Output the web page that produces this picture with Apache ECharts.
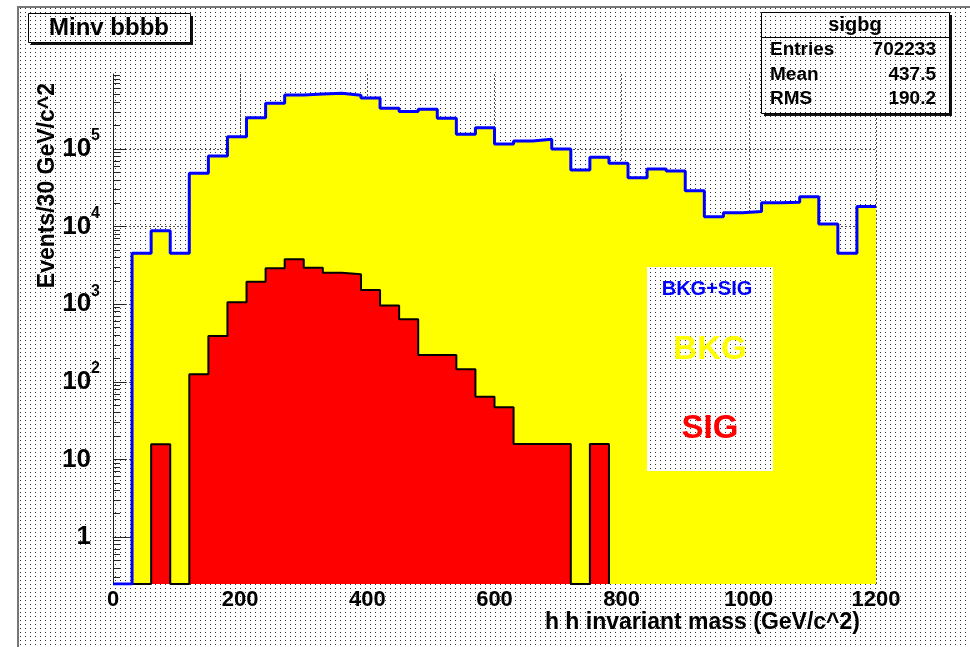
<!DOCTYPE html>
<html>
<head>
<meta charset="utf-8">
<title>Minv bbbb</title>
<script src="https://cdn.jsdelivr.net/npm/echarts@6.0.0/dist/echarts.min.js"></script>
<style>
html,body{margin:0;padding:0;background:#fff;}
#chart{width:970px;height:647px;}
</style>
</head>
<body>
<div id="chart"></div>
<script>
// ---- data ----
const binEdges = [0,30,60,90,120,150,180,210,240,270,300,330,360,390,420,450,480,510,540,570,600,
                  630,660,690,720,750,780,810,840,870,900,930,960,990,1020,1050,1080,1110,1140,1170,1200];
// BKG+SIG (blue outline)
const bkgSig = [0, 4530, 8850, 4530, 48600, 81300, 144000, 253000, 388000, 496000,
                512000, 522000, 492000, 454000, 334000, 303000, 325000, 249000, 155000, 188000,
                115900, 126800, 133400, 100000, 53600, 78200, 65400, 42700, 55200, 52000,
                29000, 13400, 15100, 15600, 20300, 20600, 24300, 10800, 4530, 18100];
// BKG (yellow fill)
const bkg = [0, 4530, 8830, 4530, 48500, 80900, 143000, 251000, 385000, 492000,
             509000, 519000, 490000, 452000, 333000, 302000, 325000, 249000, 155000, 188000,
             115900, 126800, 133400, 100000, 53600, 78200, 65400, 42700, 55200, 52000,
             29000, 13400, 15100, 15600, 20300, 20600, 24300, 10800, 4530, 18100];
// SIG (red fill)
const sig = [0, 0, 15.7, 0, 125, 389, 1060, 1950, 2900, 3790,
             2950, 2540, 2430, 1520, 960, 640, 221, 221, 145, 64,
             47, 15.8, 15.8, 15.8, 0, 15.8, 0, 0, 0, 0,
             0, 0, 0, 0, 0, 0, 0, 0, 0, 0];
const xTickLabels = [0, 200, 400, 600, 800, 1000, 1200];
const yDecadeLabels = [0, 1, 2, 3, 4, 5];          // 1, 10, 10^2 ... 10^5
const yMinorMultipliers = [2, 3, 4, 5, 6, 7, 8, 9];
const yRange = [0.248, 9.25e5];
const statsRows = [['Entries', '702233'], ['Mean', '437.5'], ['RMS', '190.2']];
const xTitle = 'h h invariant mass (GeV/c^2)';
const yTitle = 'Events/30 GeV/c^2';

// ---- build ----
const FONT = "'Liberation Sans', Arial, Helvetica, sans-serif";
const yMin = Math.log10(yRange[0]);
const yMax = Math.log10(yRange[1]);
const lg = v => (v > 0 ? Math.log10(v) : yMin);

function steps(vals, trimTail) {
  let last = vals.length - 1;
  if (trimTail) { while (last > 0 && !(vals[last] > 0)) last--; }
  const d = [];
  for (let i = 0; i <= last; i++) d.push([binEdges[i], lg(vals[i])]);
  if (last === vals.length - 1) d.push([binEdges[vals.length], lg(vals[last])]);
  else d.push([binEdges[last + 1], yMin]);
  return d;
}

function dots() {
  const c = document.createElement('canvas');
  c.width = 5; c.height = 4;
  const g = c.getContext('2d');
  g.fillStyle = '#ffffff'; g.fillRect(0, 0, 5, 4);
  g.fillStyle = '#333333'; g.fillRect(0, 0, 1, 1);
  return {image: c, repeat: 'repeat'};
}

const minorTicks = [];
for (let n = -1; n <= 5; n++) {
  yMinorMultipliers.forEach(k => {
    const v = Math.log10(k) + n;
    if (v > yMin && v < yMax) minorTicks.push(v);
  });
}

const chart = echarts.init(document.getElementById('chart'), null, {renderer: 'canvas'});

const gridLine = {show: true, lineStyle: {color: '#555', width: 1, type: [2, 2]}};

const option = {
  animation: false,
  backgroundColor: '#ffffff',
  grid: {left: 113, top: 74, width: 763, height: 510, containLabel: false, outerBoundsMode: 'none'},
  xAxis: [{
    type: 'value',
    min: xTickLabels[0],
    max: xTickLabels[xTickLabels.length - 1],
    interval: xTickLabels[1] - xTickLabels[0],
    axisLine: {show: true, lineStyle: {color: '#333', width: 1}},
    axisTick: {show: false},
    axisLabel: {color: '#000', fontFamily: FONT, fontWeight: 'bold', fontSize: 22, margin: 5,
                formatter: v => String(v)},
    splitLine: gridLine
  }],
  yAxis: [{
    type: 'value',
    min: yMin,
    max: yMax,
    axisLine: {show: true, lineStyle: {color: '#222', width: 1}},
    axisTick: {show: true, inside: true, length: 13, lineStyle: {color: '#222', width: 1},
               customValues: yDecadeLabels},
    axisLabel: {
      customValues: yDecadeLabels,
      margin: 13,
      formatter: v => {
        const n = Math.round(v);
        if (n === 0) return '{p|1}';
        if (n === 1) return '{p|10}';
        return '{b|10}{s|' + n + '}';
      },
      rich: {
        b: {color: '#000', fontFamily: FONT, fontWeight: 'bold', fontSize: 26},
        p: {color: '#000', fontFamily: FONT, fontWeight: 'bold', fontSize: 26, padding: [0, 9, 0, 0]},
        s: {color: '#000', fontFamily: FONT, fontWeight: 'bold', fontSize: 16, padding: [0, 0, 26, 0]}
      }
    },
    splitLine: gridLine
  }, {
    type: 'value',
    min: yMin,
    max: yMax,
    position: 'left',
    axisLine: {show: false},
    axisTick: {show: true, inside: true, length: 7, lineStyle: {color: '#222', width: 1},
               customValues: minorTicks},
    axisLabel: {show: false},
    splitLine: {show: false}
  }],
  series: [{
    name: 'BKG', type: 'line', step: 'end', yAxisIndex: 0, symbol: 'none', silent: true,
    data: steps(bkg, false),
    lineStyle: {width: 0, opacity: 0},
    areaStyle: {color: '#ffff00', opacity: 1, origin: 'start'}
  }, {
    name: 'SIG', type: 'line', step: 'end', yAxisIndex: 0, symbol: 'none', silent: true,
    data: steps(sig, true),
    lineStyle: {color: '#000000', width: 2},
    areaStyle: {color: '#ff0000', opacity: 1, origin: 'start'}
  }, {
    name: 'BKG+SIG', type: 'line', step: 'end', yAxisIndex: 0, symbol: 'none', silent: true,
    data: steps(bkgSig, false),
    lineStyle: {color: '#0000ff', width: 3}
  }],
  graphic: [
    {type: 'rect', z: -20, silent: true, shape: {x: 18, y: 7, width: 952, height: 640}, style: {fill: dots()}},
    {type: 'line', z: -19, silent: true, shape: {x1: 18, y1: 6, x2: 18, y2: 647}, style: {stroke: '#777', lineWidth: 2}},
    {type: 'line', z: -19, silent: true, shape: {x1: 17, y1: 7, x2: 970, y2: 7}, style: {stroke: '#777', lineWidth: 2}},
    // axis titles
    {type: 'text', z: 10, silent: true, x: 860, y: 623,
      style: {text: xTitle, x: 0, y: 0, align: 'right', verticalAlign: 'middle', font: 'bold 23px ' + FONT, fill: '#000'}},
    {type: 'text', z: 10, silent: true, x: 48, y: 83, rotation: Math.PI / 2,
      style: {text: yTitle, x: 0, y: 0, align: 'right', verticalAlign: 'middle', font: 'bold 23px ' + FONT, fill: '#000'}},
    // title box
    {type: 'rect', z: 50, silent: true, shape: {x: 31, y: 16, width: 162, height: 29}, style: {fill: '#111'}},
    {type: 'rect', z: 51, silent: true, shape: {x: 28.5, y: 13.5, width: 162, height: 29}, style: {fill: dots(), stroke: '#000', lineWidth: 1}},
    {type: 'text', z: 52, silent: true, style: {text: 'Minv bbbb', x: 109, y: 28, align: 'center', verticalAlign: 'middle',
      font: 'bold 24px ' + FONT, fill: '#000'}},
    // stats box
    {type: 'rect', z: 50, silent: true, shape: {x: 764, y: 15, width: 188, height: 101}, style: {fill: '#111'}},
    {type: 'rect', z: 51, silent: true, shape: {x: 761.5, y: 12.5, width: 188, height: 101}, style: {fill: dots(), stroke: '#000', lineWidth: 1}},
    {type: 'line', z: 52, silent: true, shape: {x1: 761.5, y1: 37.5, x2: 949.5, y2: 37.5}, style: {stroke: '#000', lineWidth: 1}},
    {type: 'text', z: 52, silent: true, style: {text: 'sigbg', x: 855, y: 25, align: 'center', verticalAlign: 'middle',
      font: 'bold 20px ' + FONT, fill: '#000'}}
  ].concat(statsRows.flatMap((r, i) => [
    {type: 'text', z: 52, silent: true, style: {text: r[0], x: 770, y: 50 + i * 24.5, align: 'left', verticalAlign: 'middle',
      font: 'bold 19px ' + FONT, fill: '#000'}},
    {type: 'text', z: 52, silent: true, style: {text: r[1], x: 936, y: 50 + i * 24.5, align: 'right', verticalAlign: 'middle',
      font: 'bold 19px ' + FONT, fill: '#000'}}
  ])).concat([
    // legend box
    {type: 'rect', z: 50, silent: true, shape: {x: 647, y: 267, width: 126, height: 204}, style: {fill: dots()}},
    {type: 'text', z: 52, silent: true, style: {text: 'BKG+SIG', x: 707, y: 289, align: 'center', verticalAlign: 'middle',
      font: 'bold 20px ' + FONT, fill: '#0000ff'}},
    {type: 'text', z: 52, silent: true, style: {text: 'BKG', x: 710, y: 350, align: 'center', verticalAlign: 'middle',
      font: 'bold 33px ' + FONT, fill: '#ffff00'}},
    {type: 'text', z: 52, silent: true, style: {text: 'SIG', x: 710, y: 429, align: 'center', verticalAlign: 'middle',
      font: 'bold 33px ' + FONT, fill: '#ff0000'}}
  ])
};

chart.setOption(option);
</script>
</body>
</html>
